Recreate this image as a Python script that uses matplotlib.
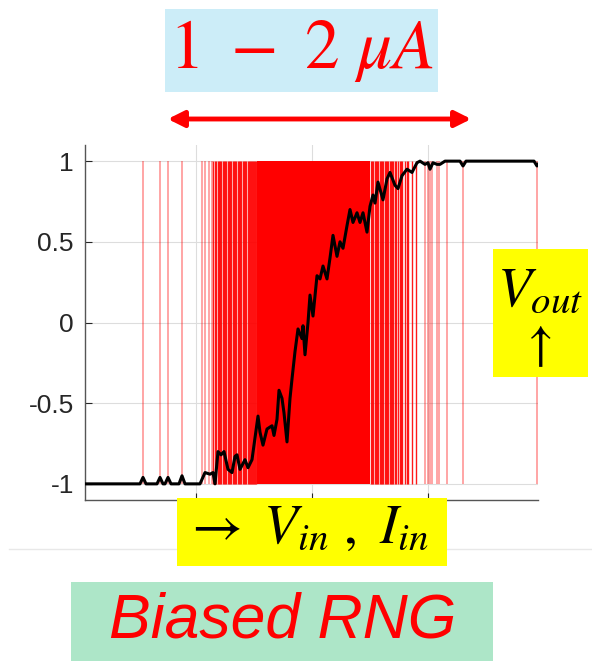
import numpy as np
import matplotlib.pyplot as plt
from matplotlib.patches import Rectangle, FancyArrowPatch
from matplotlib.lines import Line2D

plt.rcParams['mathtext.fontset'] = 'stix'

# 入力(サンプル位置) と 出力平均 (黒線)
VIN = [0, 55, 58, 61, 72, 75, 78, 80, 83, 86, 94, 97, 100,
       115, 120, 125, 128, 130, 133, 136, 139, 143, 147, 150, 152, 155, 160, 163, 167,
       169, 173, 175, 178, 182, 187, 189, 192, 194, 197, 199, 202, 205, 207, 210,
       213, 217, 218, 220, 223, 225, 228, 232, 235, 238, 242, 245, 248, 252, 255,
       258, 262, 265, 268, 272, 275, 278, 282, 285, 288, 290, 293, 298, 302, 305,
       310, 313, 317, 322, 327, 332, 335, 340, 343, 345, 348, 352, 355, 360, 375,
       378, 381, 449, 452, 453]
VOUT = [-1, -1, -0.96, -1, -1, -0.96, -1, -1, -0.96, -1, -1, -0.95, -1,
        -1, -0.93, -0.94, -0.93, -1, -0.80, -0.82, -0.80, -0.91, -0.93, -0.83, -0.82, -0.91,
        -0.85, -0.90, -0.85,
        -0.76, -0.58, -0.68, -0.76, -0.66, -0.64, -0.70, -0.60, -0.42, -0.47, -0.56,
        -0.74, -0.47, -0.35, -0.18,
        -0.04, -0.10, -0.02, -0.20, 0.0, 0.17, 0.04, 0.29, 0.27, 0.35, 0.27, 0.40,
        0.54, 0.41, 0.50,
        0.46, 0.60, 0.70, 0.62, 0.68, 0.62, 0.68, 0.56, 0.72, 0.79, 0.74, 0.87,
        0.76, 0.89, 0.93,
        0.85, 0.83, 0.91, 0.95, 0.93, 0.99, 1.0, 0.98, 0.99, 0.95, 0.99, 0.98,
        0.98, 1.0, 1.0,
        0.97, 1.0, 1.0, 0.97, 0.98]

# RNGの生出力(パルス位置)
SPIKES_SPARSE = [58, 75, 83, 97, 117, 120, 124, 127,
                 340, 343, 345, 347, 352, 354, 362, 378, 452]
SPIKES_BURST = [128, 130, 131, 133, 134, 135, 136, 138, 139, 140, 141, 143, 144,
                145, 146, 148, 149, 150, 151, 153, 154, 155, 156, 158, 159, 160,
                161, 163, 164, 165, 166, 167, 168, 169, 170, 171,
                286, 287, 288, 290, 291, 292, 293, 295, 296, 297, 298, 300, 301,
                302, 303, 305, 306, 307, 308, 310, 311, 313, 315, 316, 317, 320,
                322, 323, 327, 331]
DENSE_BAND = [172, 285]

Y_TICKS = [-1, -0.5, 0, 0.5, 1]
Y_LABELS = ['-1', '-0.5', '0', '0.5', '1']
X_TICKS = [111, 227, 343]

W, H = 592, 661


def fx(px):
    return px / W


def fy(py):
    return 1 - py / H


fig = plt.figure(figsize=(W / 100, H / 100), dpi=100)

# 背景の灰色の線
fig.add_artist(Line2D([fx(9), fx(592)], [fy(549), fy(549)], color='#e8e8e8', lw=1, zorder=0))

ax = fig.add_axes([fx(85), fy(500), 453 / W, 355 / H])
ax.set_xlim(0, 453)
ax.set_ylim(-1.1, 1.1)

ax.fill_between(DENSE_BAND, -1, 1, color='red', lw=0, zorder=1)
ax.vlines(SPIKES_SPARSE, -1, 1, color='red', lw=1.1, alpha=0.45, zorder=1)
ax.vlines(SPIKES_BURST, -1, 1, color='red', lw=1.0, alpha=0.9, zorder=1)
ax.plot(VIN, VOUT, color='black', lw=2.2, zorder=3)

ax.set_yticks(Y_TICKS)
ax.set_yticklabels(Y_LABELS, family='Liberation Sans', fontsize=19, color='#262626')
ax.set_xticks(X_TICKS)
ax.set_xticklabels([])
ax.tick_params(direction='in', length=5, width=0.8, color='#262626', pad=8)
ax.grid(True, color='#dddddd', lw=0.8, zorder=0)
ax.set_axisbelow(True)
for s in ['top', 'right']:
    ax.spines[s].set_visible(False)
for s in ['left', 'bottom']:
    ax.spines[s].set_color('#555555')
    ax.spines[s].set_linewidth(1.0)


# 注釈ボックス
def box(x0, y0, x1, y1, color):
    fig.add_artist(Rectangle((fx(x0), fy(y1)), fx(x1) - fx(x0), fy(y0) - fy(y1),
                             transform=fig.transFigure, color=color, lw=0, zorder=5))


box(165, 9, 438, 92, '#ccedf8')
fig.text(fx(302), fy(50), r'$1\ -\ 2\ \mu A$', color='red', fontsize=50,
         ha='center', va='center', zorder=6)

fig.add_artist(FancyArrowPatch(
    (fx(165), fy(119)), (fx(474), fy(119)), transform=fig.transFigure,
    arrowstyle='<|-|>', mutation_scale=24, color='red', lw=3.5))

box(493, 249, 588, 377, '#ffff00')
fig.text(fx(540), fy(290), r'$V_{out}$', fontsize=40, ha='center', va='center', zorder=6)
fig.text(fx(536), fy(345), r'$\uparrow$', fontsize=36, ha='center', va='center', zorder=6)

box(177, 498, 447, 566, '#ffff00')
fig.text(fx(306), fy(528), r'$\rightarrow\ V_{in}\ ,\ I_{in}$', fontsize=40,
         ha='center', va='center', zorder=6)

box(71, 582, 493, 661, '#ade6c8')
fig.text(fx(283), fy(621), 'Biased RNG', family='Liberation Sans', style='italic',
         color='red', fontsize=45, ha='center', va='center', zorder=6)

fig.savefig('out.png', dpi=100)
